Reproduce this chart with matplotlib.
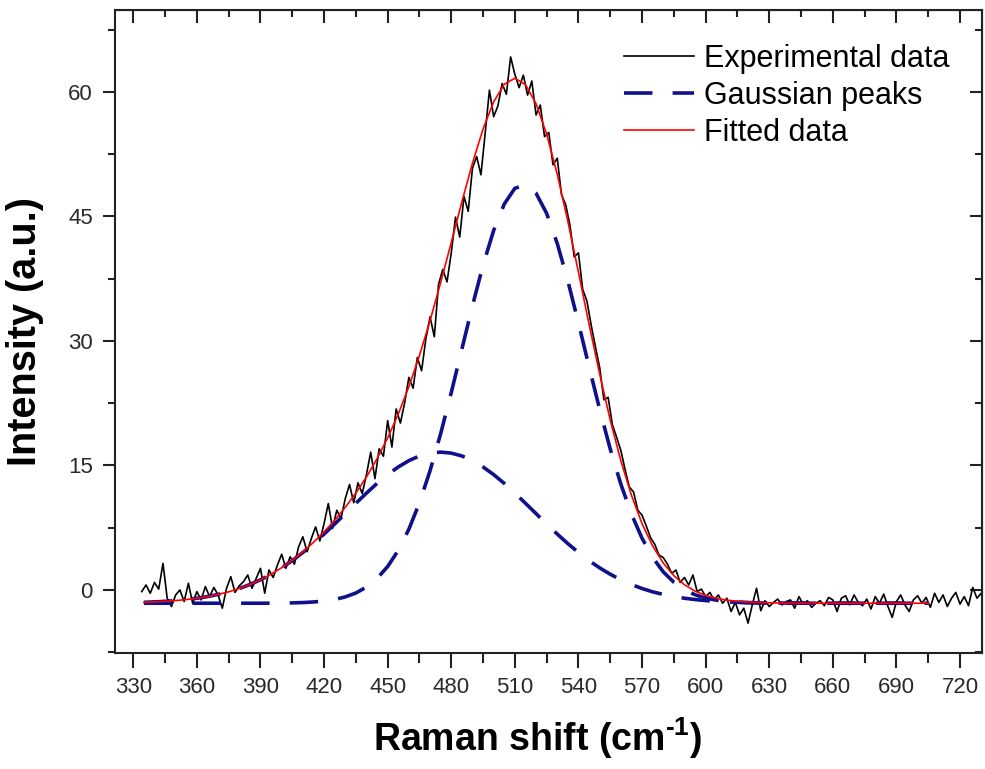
import numpy as np
import matplotlib
matplotlib.use("Agg")
import matplotlib.pyplot as plt
from matplotlib.ticker import MultipleLocator

plt.rcParams['font.family'] = ['Liberation Sans', 'DejaVu Sans']
plt.rcParams['mathtext.fontset'] = 'custom'
plt.rcParams['mathtext.rm'] = 'Liberation Sans:bold'
plt.rcParams['mathtext.bf'] = 'Liberation Sans:bold'
plt.rcParams['lines.scale_dashes'] = False

# ---------------- data ----------------
exp_start, exp_step = 334, 2
experimental = [
    -0.2, 0.6, -0.4, 0.9, 0.1, 3.2, -1.0, -2.0, -0.6, 0.0,
    -1.4, 0.8, -1.6, -0.2, -1.2, 0.4, -0.8, 0.3, -0.6, -2.2,
    0.2, 1.6, -0.3, 0.5, 1.0, 1.8, 0.2, 1.4, 2.6, -0.4,
    2.4, 1.5, 3.0, 4.3, 2.6, 4.0, 3.1, 5.2, 6.4, 4.6,
    6.2, 7.6, 5.9, 8.0, 10.4, 7.4, 9.6, 8.6, 11.0, 12.7,
    10.5, 12.9, 11.6, 13.9, 16.6, 13.4, 17.0, 16.1, 20.4, 17.2,
    21.8, 20.1, 22.5, 25.6, 24.3, 28.0, 26.4, 30.2, 32.9, 30.5,
    36.8, 38.6, 37.1, 40.6, 44.9, 42.5, 47.4, 45.6, 50.8, 52.2,
    50.0, 55.0, 60.2, 57.0, 58.3, 61.0, 59.7, 64.2, 62.1, 60.5,
    62.0, 59.6, 61.3, 57.2, 58.4, 54.6, 55.1, 51.2, 52.0, 47.6,
    46.4, 43.9, 40.1, 40.6, 36.2, 34.8, 31.9, 29.3, 26.8, 22.9,
    23.2, 19.9, 18.4, 16.8, 14.5, 12.4, 11.8, 9.6, 9.0, 7.7,
    6.3, 5.5, 4.2, 3.9, 3.1, 2.0, 2.4, 0.9, 1.5, 0.6,
    1.8, -0.2, 0.1, -0.8, -0.3, -1.2, -0.6, -1.6, -1.0, -2.6,
    -1.5, -3.0, -2.2, -4.0, -1.8, 0.2, -2.5, -1.3, -2.0, -1.5,
    -1.1, -1.8, -1.4, -1.2, -2.2, -0.8, -1.7, -1.3, -2.1, -1.6,
    -1.3, -1.9, -0.9, -1.2, -2.6, -1.0, -0.7, -1.8, -0.6, -1.5,
    -1.9, -1.1, -2.3, -0.8, -1.6, -0.5, -2.0, -3.3, -1.4, -0.6,
    -1.8, -2.6, -1.2, -0.7, -1.6, -0.9, -2.1, -0.4, -1.5, -0.6,
    -2.0, -1.0, -0.3, -1.7, -0.8, -1.9, 0.3, -1.0, -0.4, -1.2,
]

fit_start, fit_step = 335, 5
fitted = [
    -1.49, -1.44, -1.37, -1.28, -1.16, -1.00, -0.80, -0.54, -0.23, 0.17,
    0.65, 1.22, 1.90, 2.68, 3.58, 4.59, 5.73, 7.00, 8.40, 9.95,
    11.67, 13.61, 15.81, 18.31, 21.18, 24.48, 28.24, 32.44, 37.02, 41.85,
    46.74, 51.39, 55.52, 58.79, 60.91, 61.63, 60.86, 58.57, 54.89, 50.06,
    44.40, 38.26, 32.02, 26.01, 20.46, 15.56, 11.40, 7.98, 5.30, 3.24,
    1.72, 0.63, -0.14, -0.66, -1.00, -1.23, -1.37, -1.46, -1.51, -1.55,
    -1.58, -1.60, -1.60, -1.60, -1.60, -1.60, -1.60, -1.60, -1.60, -1.60,
    -1.60, -1.60, -1.60, -1.60, -1.60,
]

gauss_peak1 = [
    -1.49, -1.44, -1.37, -1.28, -1.16, -1.00, -0.80, -0.54, -0.23, 0.17,
    0.65, 1.22, 1.89, 2.66, 3.53, 4.51, 5.58, 6.73, 7.94, 9.19,
    10.44, 11.66, 12.83, 13.89, 14.81, 15.57, 16.14, 16.48, 16.60, 16.48,
    16.14, 15.57, 14.81, 13.89, 12.83, 11.66, 10.44, 9.19, 7.94, 6.73,
    5.58, 4.51, 3.53, 2.66, 1.89, 1.22, 0.65, 0.17, -0.23, -0.54,
    -0.80, -1.00, -1.16, -1.28, -1.37, -1.44, -1.49, -1.52, -1.55, -1.56,
    -1.58, -1.59, -1.59, -1.60, -1.60, -1.60, -1.60, -1.60, -1.60, -1.60,
    -1.60, -1.60, -1.60, -1.60, -1.60,
]

gauss_peak2 = [
    -1.60, -1.60, -1.60, -1.60, -1.60, -1.60, -1.60, -1.60, -1.60, -1.60,
    -1.60, -1.60, -1.60, -1.58, -1.56, -1.52, -1.45, -1.34, -1.15, -0.84,
    -0.37, 0.35, 1.38, 2.82, 4.77, 7.31, 10.50, 14.36, 18.82, 23.77,
    29.00, 34.22, 39.11, 43.30, 46.48, 48.37, 48.82, 47.78, 45.35, 41.73,
    37.22, 32.15, 26.89, 21.75, 16.97, 12.74, 9.15, 6.22, 3.92, 2.18,
    0.92, 0.03, -0.58, -0.98, -1.23, -1.39, -1.48, -1.54, -1.57, -1.58,
    -1.60, -1.60, -1.60, -1.60, -1.60, -1.60, -1.60, -1.60, -1.60, -1.60,
    -1.60, -1.60, -1.60, -1.60, -1.60,
]

legend_labels = ["Experimental data", "Gaussian peaks", "Fitted data"]
x_ticks = [330, 360, 390, 420, 450, 480, 510, 540, 570, 600, 630, 660, 690, 720]
y_ticks = [0, 15, 30, 45, 60]

x_exp = exp_start + exp_step * np.arange(len(experimental))
x_fit = fit_start + fit_step * np.arange(len(fitted))
x_g1 = fit_start + fit_step * np.arange(len(gauss_peak1))
x_g2 = fit_start + fit_step * np.arange(len(gauss_peak2))

# ---------------- figure ----------------
fig = plt.figure(figsize=(9.85, 7.69), dpi=100)
ax = fig.add_axes([0.1168, 0.1508, 0.8798, 0.8362])

navy = '#10108c'
dash = (20.5, 14.5)
l_exp, = ax.plot(x_exp, experimental, color='black', lw=1.2, zorder=2)
l_g, = ax.plot(x_g1, gauss_peak1, color=navy, lw=2.6, ls=(0, dash), zorder=3)
ax.plot(x_g2, gauss_peak2, color=navy, lw=2.6, ls=(0, dash), zorder=3)
l_fit, = ax.plot(x_fit, fitted, color='#ff0000', lw=1.2, zorder=4)

ax.set_xlim(321.4, 730.2)
ax.set_ylim(-7.6, 69.85)
ax.set_xticks(x_ticks)
ax.set_yticks(y_ticks)
ax.xaxis.set_minor_locator(MultipleLocator(15))
ax.yaxis.set_minor_locator(MultipleLocator(7.5))

for s in ax.spines.values():
    s.set_linewidth(1.5)
    s.set_color('#222222')

ax.tick_params(axis='both', which='both', direction='out', width=1.5,
               color='#222222', labelsize=16, labelcolor='#2a2a2a',
               top=False, right=False)
ax.tick_params(axis='x', which='major', length=11, pad=6)
ax.tick_params(axis='x', which='minor', length=7)
ax.tick_params(axis='y', which='major', length=9, pad=7)
ax.tick_params(axis='y', which='minor', length=5)

# inward ticks on top and right
secx = ax.secondary_xaxis('top')
secx.set_xticks(x_ticks)
secx.xaxis.set_minor_locator(MultipleLocator(15))
secx.tick_params(which='both', direction='in', width=1.5, color='#222222', labeltop=False)
secx.tick_params(which='major', length=9)
secx.tick_params(which='minor', length=5)
secy = ax.secondary_yaxis('right')
secy.set_yticks(y_ticks)
secy.yaxis.set_minor_locator(MultipleLocator(7.5))
secy.tick_params(which='both', direction='in', width=1.5, color='#222222', labelright=False)
secy.tick_params(which='major', length=9)
secy.tick_params(which='minor', length=5)

ax.set_xlabel(r'Raman shift (cm$^{\text{-}\mathbf{1}}$)', fontsize=27, fontweight='bold')
ax.set_ylabel('Intensity (a.u.)', fontsize=28.5, fontweight='bold')
ax.xaxis.set_label_coords(0.487, -0.097)
ax.yaxis.set_label_coords(-0.082, 0.5)

ax.legend([l_exp, l_g, l_fit], legend_labels, loc='upper left',
          bbox_to_anchor=(0.587, 0.947), frameon=False, fontsize=22,
          handlelength=2.3, handletextpad=0.33, labelspacing=0.22,
          borderpad=0, borderaxespad=0)

fig.savefig('out.png', dpi=100)
